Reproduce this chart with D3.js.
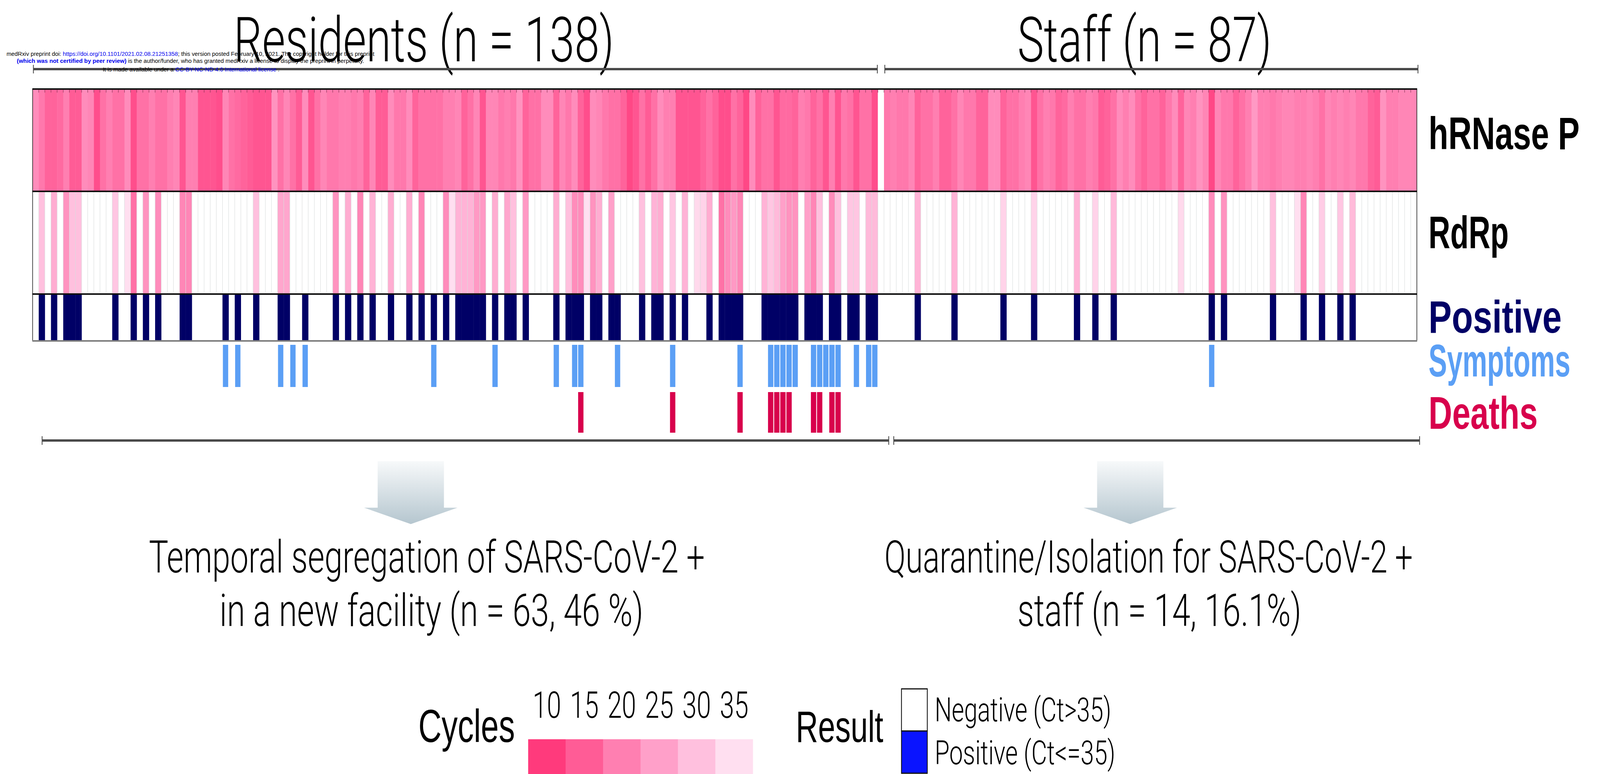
<!DOCTYPE html>
<html lang="en">
<head>
<meta charset="UTF-8">
<title>SARS-CoV-2 screening heatmap</title>
<script src="https://cdn.jsdelivr.net/npm/d3@7"></script>
<style>
  html, body { margin: 0; padding: 0; background: #fff; overflow: hidden; }
  svg { display: block; font-family: "Liberation Sans", Arial, sans-serif; }
  .light { font-family: Roboto, "Liberation Sans", sans-serif; font-weight: 300; }
</style>
</head>
<body>
<svg id="chart"></svg>
<script>
// ---- data: one entry per column (138 residents, 1 empty separator, 87 staff) ----
const hrnase = [
  22,19,16,16,17,20,15,15,22,21, 13,18,20,18,18,22,13,18,18,20, 18,18,20,21,14,20,20,14,14,14,
  13,21,18,17,16,15,14,14,14,23, 18,21,18,15,22,
  14,18,21,19,19,20,20,19,20,16, 21,15,15,22,19,19,22,16,18,18, 18,18,20,20,21,16,18,21,14,21,
  21,19,20,19,23,16,18,18,22,22, 16,21,19,22,16,
  13,22,21,19,18,18,16,12,14,18, 15,18,22,20,20,14,14,14,14,16, 18,16,13,13,18,16,12,22,16,18,
  18,14,17,17,16,20,19,16,18,14, 20,14,19,18,14,18,
  18,13,null,19,20,19,19,21,16,18, 18,20,16,16,18,21,19,19,16,16, 22,22,16,18,18,20,21,14,18,20,
  19,16,17,20,18,18,20,19,15,16, 18,22,20,22,18,
  16,18,18,16,19,22,16,21,20,23, 21,12,21,19,19,16,18,20,24,20, 20,19,20,21,21,20,20,21,20,18,
  21,20,21,20,21,19,19,16,15,23, 20,20,21,21,21
];
const rdrp = [
  null,30,null,27,null,23,30,30,null,null, null,null,null,31,null,35,18,null,23,null,
  22,null,null,null,21,21,null,null,null,null, null,null,null,null,null,null,30,null,null,null,
  26,26,null,null,null,
  null,null,null,null,23,null,27,null,21,null, 28,null,null,27,null,null,27,null,21,null,
  null,null,22,35,28,28,28,24,24,null, 27,null,26,30,null,24,null,null,null,null,
  27,null,30,22,22,
  35,23,27,null,25,null,null,null,null,30, null,28,27,null,31,null,28,null,34,33,
  27,null,18,22,24,21,null,null,null,28, 31,29,25,23,23,null,25,21,30,null,
  22,30,null,31,31,null,
  29,29,null,null,null,null,null,null,28,null, null,null,null,null,28,null,null,null,null,null,
  null,null,33,null,null,null,null,33,null,null, null,null,null,null,28,null,null,33,null,null,
  29,null,null,null,null,
  null,null,null,null,null,null,34,null,null,null, null,22,null,23,null,null,null,null,null,null,
  null,30,null,null,null,35,21,null,null,32, null,null,31,null,29,null,null,null,null,null,
  null,null,null,null,null
];
const positiveCols = [1,3,5,6,7,13,16,18,20,24,25,31,33,36,40,41,44,
  49,51,53,55,58,61,63,65,67,69,70,71,72,73,75,77,78,80,85,87,88,89,
  91,92,94,95,99,101,102,104,106,110,112,113,114,115,119,120,121,122,123,124,
  126,127,128,130,131,133,134,136,137,
  144,150,158,163,170,173,176,192,194,202,207,210,213,215];
const symptomCols = [31,33,40,42,44,65,75,85,88,89,95,104,115,120,121,122,123,124,
  127,128,129,130,131,134,136,137,192];
const deathCols = [89,104,115,120,121,122,123,127,128,130,131];

const groupNames = ["Residents (n = 138)", "Staff (n = 87)"];
const groupFirst = [0, 139];
const groupLast = [137, 225];
const rowLabels = ["hRNase P", "RdRp", "Positive", "Symptoms", "Deaths"];
const outcomeLines = [
  ["Temporal segregation of SARS-CoV-2 +", "in a new facility (n = 63, 46 %)"],
  ["Quarantine/Isolation for SARS-CoV-2 +", "staff (n = 14, 16.1%)"]
];
const cycleTicks = [10, 15, 20, 25, 30, 35];
const resultLabels = ["Negative (Ct>35)", "Positive (Ct<=35)"];

// ---- drawing (drawn in a 5889 x 1982 frame, fitted to the window) ----
const W = 5889, H = 1982;
const svg = d3.select("#chart")
  .attr("width", window.innerWidth).attr("height", window.innerHeight)
  .attr("viewBox", `0 0 ${W} ${H}`).attr("preserveAspectRatio", "none");

const nCols = hrnase.length;
const x = d3.scaleBand().domain(d3.range(nCols)).range([120, 5215]);
const bw = x.bandwidth();
const ct = d3.scaleLinear().domain(cycleTicks)
  .range(["#ff3a7c", "#ff5c96", "#ff7fb1", "#ffa0c9", "#ffc0de", "#ffdff0"]).clamp(true);

const rows = { h: [228, 490], r: [490, 753], p: [753, 873], s: [883, 991], d: [1004, 1108] };
const cellFill = v => v == null ? "#fff" : ct(v);

// hRNase P row
svg.append("g").selectAll("rect").data(hrnase).join("rect")
  .attr("x", (d, i) => x(i)).attr("width", bw + 0.6)
  .attr("y", rows.h[0]).attr("height", rows.h[1] - rows.h[0])
  .attr("fill", cellFill);

// RdRp row
svg.append("g").selectAll("rect").data(rdrp).join("rect")
  .attr("x", (d, i) => x(i)).attr("width", bw + 0.6)
  .attr("y", rows.r[0]).attr("height", rows.r[1] - rows.r[0])
  .attr("fill", cellFill);
svg.append("g").selectAll("line").data(d3.range(1, nCols)).join("line")
  .attr("x1", i => x(i)).attr("x2", i => x(i))
  .attr("y1", rows.r[0]).attr("y2", rows.r[1])
  .attr("stroke", "#d9dcdc").attr("stroke-width", 1.5);

// little ticks along the top edge
svg.append("g").selectAll("line").data(d3.range(1, nCols)).join("line")
  .attr("x1", i => x(i)).attr("x2", i => x(i))
  .attr("y1", rows.h[0]).attr("y2", rows.h[0] + 9)
  .attr("stroke", "#7a3050").attr("stroke-width", 1.5);

// Positive row
svg.append("rect").attr("x", x(0)).attr("y", rows.p[0])
  .attr("width", x.range()[1] - x(0)).attr("height", rows.p[1] - rows.p[0]).attr("fill", "#fff");
svg.append("g").selectAll("rect").data(positiveCols).join("rect")
  .attr("x", d => x(d)).attr("width", bw + 0.6)
  .attr("y", rows.p[0]).attr("height", rows.p[1] - rows.p[0])
  .attr("fill", "#000066");

// frame
const x0 = x.range()[0], x1 = x.range()[1];
svg.append("path")
  .attr("d", `M${x0},${rows.h[0]}V${rows.p[1]}M${x1},${rows.h[0]}V${rows.p[1]}`)
  .attr("stroke", "#333").attr("stroke-width", 2.5);
[rows.h[0], rows.h[1], rows.r[1]].forEach(y => {
  svg.append("line").attr("x1", x0 - 1).attr("x2", x1 + 1).attr("y1", y).attr("y2", y)
    .attr("stroke", "#111").attr("stroke-width", 4);
});
svg.append("line").attr("x1", x0 - 1).attr("x2", x1 + 1).attr("y1", rows.p[1]).attr("y2", rows.p[1])
  .attr("stroke", "#7d7d7d").attr("stroke-width", 4);

// Symptoms / deaths ticks
svg.append("g").selectAll("rect").data(symptomCols).join("rect")
  .attr("x", d => x(d) + 1.5).attr("width", bw - 3)
  .attr("y", rows.s[0]).attr("height", rows.s[1] - rows.s[0]).attr("fill", "#5b9ff5");
svg.append("g").selectAll("rect").data(deathCols).join("rect")
  .attr("x", d => x(d) + 1.5).attr("width", bw - 3)
  .attr("y", rows.d[0]).attr("height", rows.d[1] - rows.d[0]).attr("fill", "#d8004c");

// row labels
const labelColors = ["#000", "#000", "#000066", "#5b9ff5", "#d8004c"];
const labelBase = [382, 636, 852, 964, 1098];
const labelW = [556, 295, 490, 522, 402];
svg.append("g").selectAll("text").data(rowLabels).join("text")
  .attr("x", 5258).attr("y", (d, i) => labelBase[i])
  .attr("font-size", 116).attr("font-weight", "bold")
  .attr("textLength", (d, i) => labelW[i]).attr("lengthAdjust", "spacingAndGlyphs")
  .attr("fill", (d, i) => labelColors[i]).text(d => d);

// group titles + brackets
const titleX = [860, 3745], titleW = [1400, 935];
svg.append("g").selectAll("text").data(groupNames).join("text")
  .attr("class", "light").attr("x", (d, i) => titleX[i]).attr("y", 157)
  .attr("font-size", 160).attr("textLength", (d, i) => titleW[i])
  .attr("lengthAdjust", "spacingAndGlyphs").text(d => d);

function bracket(a, b, y) {
  const g = svg.append("g").attr("stroke", "#4a4a4a");
  g.append("line").attr("x1", a).attr("x2", b).attr("y1", y).attr("y2", y).attr("stroke-width", 6);
  g.append("line").attr("x1", a).attr("x2", a).attr("y1", y - 11).attr("y2", y + 11).attr("stroke-width", 3);
  g.append("line").attr("x1", b).attr("x2", b).attr("y1", y - 11).attr("y2", y + 11).attr("stroke-width", 3);
}
groupFirst.forEach((f, i) => bracket(x(f) + 3, x(groupLast[i]) + bw - 2 + (i ? 6 : 0), 177));
groupFirst.forEach((f, i) => bracket(x(f) + (i ? 36 : 35), x(groupLast[i]) + bw + (i ? 10 : 40), 1128));

// arrows
const defs = svg.append("defs");
const grad = defs.append("linearGradient").attr("id", "arrowGrad")
  .attr("x1", 0).attr("x2", 0).attr("y1", 0).attr("y2", 1);
grad.append("stop").attr("offset", "0%").attr("stop-color", "#f7f9fa");
grad.append("stop").attr("offset", "100%").attr("stop-color", "#b5c6cf");
const arrowX = [1512, 4160];
arrowX.forEach(cx => {
  svg.append("path")
    .attr("d", `M${cx - 122},1181H${cx + 122}V1300H${cx + 172}L${cx},1342L${cx - 172},1300H${cx - 122}Z`)
    .attr("fill", "url(#arrowGrad)");
});

// outcome texts
const outX = [[548, 808], [3255, 3745]];
const outW = [[2046, 1560], [1945, 1045]];
outcomeLines.forEach((lines, i) => {
  lines.forEach((t, j) => {
    svg.append("text").attr("class", "light")
      .attr("x", outX[i][j]).attr("y", j ? 1603 : 1466)
      .attr("font-size", 115).attr("textLength", outW[i][j])
      .attr("lengthAdjust", "spacingAndGlyphs").text(t);
  });
});

// Cycles legend
svg.append("text").attr("x", 1540).attr("y", 1900).attr("font-size", 118)
  .attr("textLength", 355).attr("lengthAdjust", "spacingAndGlyphs").text("Cycles");
const lx = d3.scaleBand().domain(cycleTicks).range([1944, 2771]);
svg.append("g").selectAll("rect").data(cycleTicks).join("rect")
  .attr("x", d => lx(d)).attr("width", lx.bandwidth() + 0.5)
  .attr("y", 1893).attr("height", 95).attr("fill", d => ct(d));
svg.append("g").selectAll("text").data(cycleTicks).join("text")
  .attr("class", "light").attr("x", d => lx(d) + lx.bandwidth() / 2).attr("y", 1838)
  .attr("text-anchor", "middle").attr("font-size", 95).text(d => d);

// Result legend
svg.append("text").attr("x", 2929).attr("y", 1900).attr("font-size", 114)
  .attr("textLength", 322).attr("lengthAdjust", "spacingAndGlyphs").text("Result");
const resultFill = ["#fff", "#0a14ff"];
svg.append("g").selectAll("rect").data(resultLabels).join("rect")
  .attr("x", 3318).attr("width", 95)
  .attr("y", (d, i) => 1764 + i * 108).attr("height", 108)
  .attr("fill", (d, i) => resultFill[i]).attr("stroke", "#111").attr("stroke-width", 3);
svg.append("g").selectAll("text").data(resultLabels).join("text")
  .attr("class", "light").attr("x", 3440).attr("y", (d, i) => 1847 + i * 110)
  .attr("font-size", 86).attr("textLength", (d, i) => i ? 665 : 650)
  .attr("lengthAdjust", "spacingAndGlyphs").text(d => d);

// preprint watermark
const wm = svg.append("g").attr("font-size", 15);
const l1 = wm.append("text").attr("x", 24).attr("y", 143).attr("textLength", 1354).attr("lengthAdjust", "spacingAndGlyphs");
l1.append("tspan").text("medRxiv preprint doi: ");
l1.append("tspan").attr("fill", "#0000ee").text("https://doi.org/10.1101/2021.02.08.21251358");
l1.append("tspan").text("; this version posted February 10, 2021. The copyright holder for this preprint");
const l2 = wm.append("text").attr("x", 62).attr("y", 161).attr("textLength", 1278).attr("lengthAdjust", "spacingAndGlyphs");
l2.append("tspan").attr("fill", "#0000ee").attr("font-weight", "bold").text("(which was not certified by peer review)");
l2.append("tspan").text(" is the author/funder, who has granted medRxiv a license to display the preprint in perpetuity.");
const l3 = wm.append("text").attr("x", 378).attr("y", 183).attr("textLength", 651).attr("lengthAdjust", "spacingAndGlyphs");
l3.append("tspan").text("It is made available under a ");
l3.append("tspan").attr("fill", "#0000ee").text("CC-BY-NC-ND 4.0 International license");
l3.append("tspan").text(" .");
</script>
</body>
</html>
